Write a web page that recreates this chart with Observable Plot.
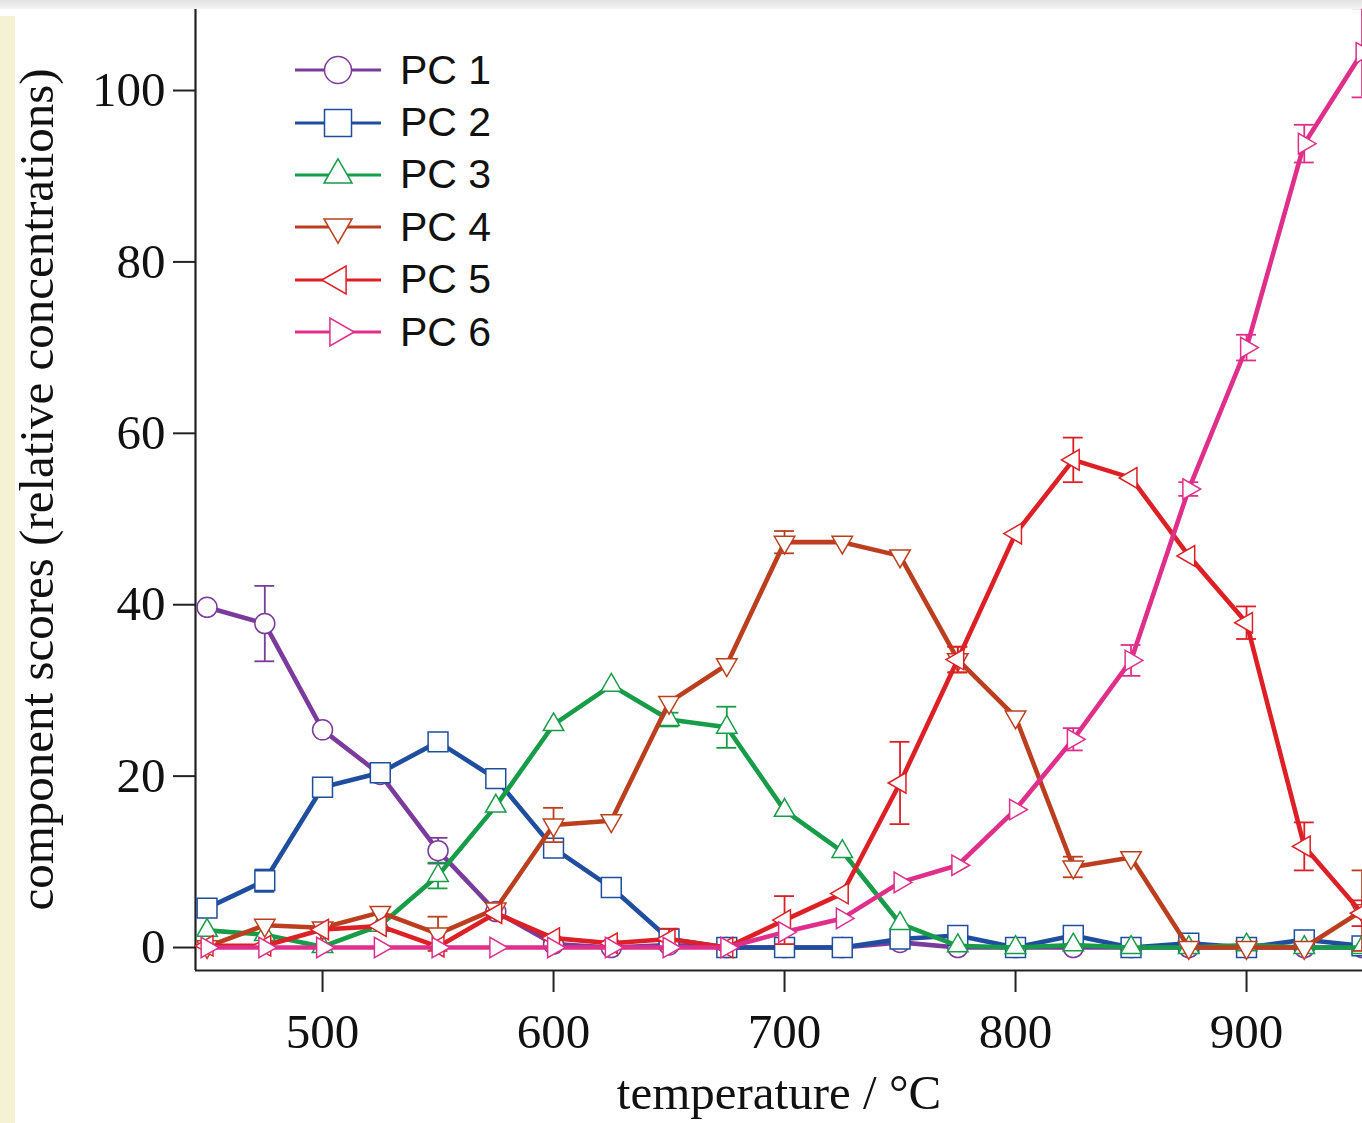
<!DOCTYPE html>
<html>
<head>
<meta charset="utf-8">
<script src="https://cdn.jsdelivr.net/npm/d3@7"></script>
<script src="https://cdn.jsdelivr.net/npm/@observablehq/plot@0.6"></script>
<style>
  html, body { margin: 0; padding: 0; background: #fff; }
  #wrap { position: relative; width: 1362px; height: 1123px; overflow: hidden; }
  #strip { position: absolute; left: 0; top: 16px; width: 15px; bottom: 0; background: #f6f1d3; z-index: 2; }
  #topband { position: absolute; left: 0; top: 0; right: 0; height: 9px; background: linear-gradient(#e2e2e2, #f4f4f4); z-index: 2; }
  #legend { position: absolute; left: 295px; top: 44px; z-index: 3; font-family: "Liberation Sans", Arial, sans-serif; font-size: 41px; color: #111; }
  .lrow { display: flex; align-items: center; height: 52.4px; }
  .lrow svg { display: block; margin-right: 18px; }
</style>
</head>
<body>
<div id="wrap">
  <div id="topband"></div>
  <div id="strip"></div>
  <div id="chart"></div>
  <div id="legend"></div>
</div>
<script>
// ---- data ----
const temps = [450, 475, 500, 525, 550, 575, 600, 625, 650, 675, 700, 725, 750, 775, 800, 825, 850, 875, 900, 925, 950];
const seriesNames = ["PC 1", "PC 2", "PC 3", "PC 4", "PC 5", "PC 6"];
const pc1 = [39.7, 37.8, 25.4, 20.2, 11.3, 4.2, 0.4, 0, 0.3, 0, 0, 0, 0.6, 0, 0, 0, 0, 0, 0, 0, 0];
const pc2 = [4.6, 7.8, 18.7, 20.4, 24.0, 19.7, 11.6, 7.0, 1.0, 0, 0, 0, 1.0, 1.4, 0, 1.4, 0, 0.5, 0, 0.9, 0.2];
const pc3 = [2.0, 1.5, 0.1, 2.6, 8.4, 16.5, 26.0, 30.6, 26.6, 25.7, 16.0, 11.2, 2.8, 0.2, 0, 0.3, 0, 0, 0.3, 0, 0];
const pc4 = [0.1, 2.6, 2.3, 4.1, 1.6, 4.5, 14.3, 14.8, 28.6, 33.0, 47.3, 47.3, 45.7, 33.6, 26.9, 9.4, 10.5, 0, 0, 0, 4.3];
const pc5 = [0.2, 0.2, 2.1, 2.5, 0.1, 4.0, 1.1, 0.5, 1.0, 0, 3.2, 6.3, 19.2, 33.6, 48.3, 56.9, 54.8, 45.7, 37.9, 11.8, 4.0];
const pc6 = [0, 0, 0, 0, 0, 0, 0, 0, 0, 0, 1.8, 3.4, 7.6, 9.6, 16.1, 24.3, 33.5, 53.5, 70.0, 93.8, 104.4];
// error bar half-lengths (0 = none visible)
const err1 = [0, 4.4, 0, 0, 1.5, 0, 0, 0, 0, 0, 0, 0, 0, 0, 0, 0, 0, 0, 0, 0, 0];
const err2 = [0, 1.3, 0, 0, 0, 0, 0, 0, 0, 0, 0, 0, 0, 0, 0, 0, 0, 0, 0, 0, 0];
const err3 = [0, 0, 0, 0, 1.5, 0, 0, 0, 0.8, 2.4, 0, 0, 0, 0, 0, 0, 0, 0, 0, 0, 0];
const err4 = [0, 0, 0, 0, 2.0, 0, 2.0, 0, 0, 0, 1.3, 0, 0, 1.5, 0, 1.2, 0, 0, 0, 0, 4.7];
const err5 = [0, 0, 0, 0, 0, 0, 0, 0, 1.2, 0, 2.8, 0, 4.8, 1.5, 0, 2.6, 0, 0, 1.9, 2.8, 1.5];
const err6 = [0, 0, 0, 0, 0, 0, 0, 0, 0, 0, 0, 0, 0, 0, 0, 1.3, 1.8, 0.8, 1.5, 2.2, 5.2];
const xTicks = [500, 600, 700, 800, 900];
const yTicks = [0, 20, 40, 60, 80, 100];
const xDomain = [445, 950.2];
const yDomain = [-2.68, 109.57];

// ---- styles ----
const colors = ["#7a3b9c", "#1f4e9e", "#179c48", "#bb3f1f", "#dd1f26", "#df2f8a"];
const symbols = ["circle", "square", "triangle", "triangle", "triangle", "triangle"];
const rotations = [0, 0, 0, 180, -90, 90];
const radii = [10, 11.2, 7.6, 7.6, 7.6, 7.6];
const capHalf = 4.3;

const values = [pc1, pc2, pc3, pc4, pc5, pc6];
const errs = [err1, err2, err3, err4, err5, err6];

const marks = [];
values.forEach((vals, s) => {
  const rows = temps.map((t, i) => ({t, v: vals[i], e: errs[s][i]}));
  const eRows = rows.filter(d => d.e > 0);
  const c = colors[s];
  marks.push(Plot.line(rows, {x: "t", y: "v", stroke: c, strokeWidth: 4.6}));
  marks.push(Plot.ruleX(eRows, {x: "t", y1: d => d.v - d.e, y2: d => d.v + d.e, stroke: c, strokeWidth: 1.8}));
  marks.push(Plot.ruleY(eRows, {y: d => d.v + d.e, x1: d => d.t - capHalf, x2: d => d.t + capHalf, stroke: c, strokeWidth: 1.8}));
  marks.push(Plot.ruleY(eRows, {y: d => d.v - d.e, x1: d => d.t - capHalf, x2: d => d.t + capHalf, stroke: c, strokeWidth: 1.8}));
  marks.push(Plot.dot(rows, {x: "t", y: "v", symbol: symbols[s], r: radii[s], rotate: rotations[s], fill: "white", stroke: c, strokeWidth: 1.5}));
});

const chart = Plot.plot({
  width: 1362,
  height: 1123,
  marginLeft: 195,
  marginRight: 0,
  marginTop: 8,
  marginBottom: 153,
  style: {fontFamily: "'Liberation Serif', 'Times New Roman', serif", fontSize: "49px", background: "transparent", color: "#111"},
  x: {domain: xDomain},
  y: {domain: yDomain},
  marks: [
    Plot.axisX({ticks: xTicks, tickSize: 22, tickPadding: 21, strokeWidth: 2, stroke: "#222",
      label: "temperature / °C", labelAnchor: "center", labelOffset: 138, labelArrow: "none", fontSize: 49}),
    Plot.axisY({ticks: yTicks, tickSize: 22, tickPadding: 8, strokeWidth: 2, stroke: "#222",
      label: "component scores (relative concentrations)", labelAnchor: "center", labelOffset: 177, labelArrow: "none", fontSize: 49}),
    Plot.ruleX([xDomain[0]], {stroke: "#222", strokeWidth: 2.2}),
    Plot.ruleY([yDomain[0]], {stroke: "#222", strokeWidth: 2.2}),
    ...marks
  ]
});
document.getElementById("chart").appendChild(chart);

// ---- legend ----
const legend = d3.select("#legend");
const legendSizes = [Math.PI * 13.5 * 13.5, 27 * 27, 340, 340, 340, 340];
const legendSym = [d3.symbolCircle, d3.symbolSquare, d3.symbolTriangle, d3.symbolTriangle, d3.symbolTriangle, d3.symbolTriangle];
seriesNames.forEach((name, s) => {
  const row = legend.append("div").attr("class", "lrow");
  const svg = row.append("svg").attr("width", 87).attr("height", 52);
  svg.append("line").attr("x1", 0).attr("x2", 86).attr("y1", 26).attr("y2", 26)
    .attr("stroke", colors[s]).attr("stroke-width", 3.2);
  svg.append("path").attr("d", d3.symbol(legendSym[s], legendSizes[s])())
    .attr("transform", `translate(43,26) rotate(${rotations[s]})`)
    .attr("fill", "white").attr("stroke", colors[s]).attr("stroke-width", 1.5);
  row.append("span").text(name);
});
</script>
</body>
</html>
